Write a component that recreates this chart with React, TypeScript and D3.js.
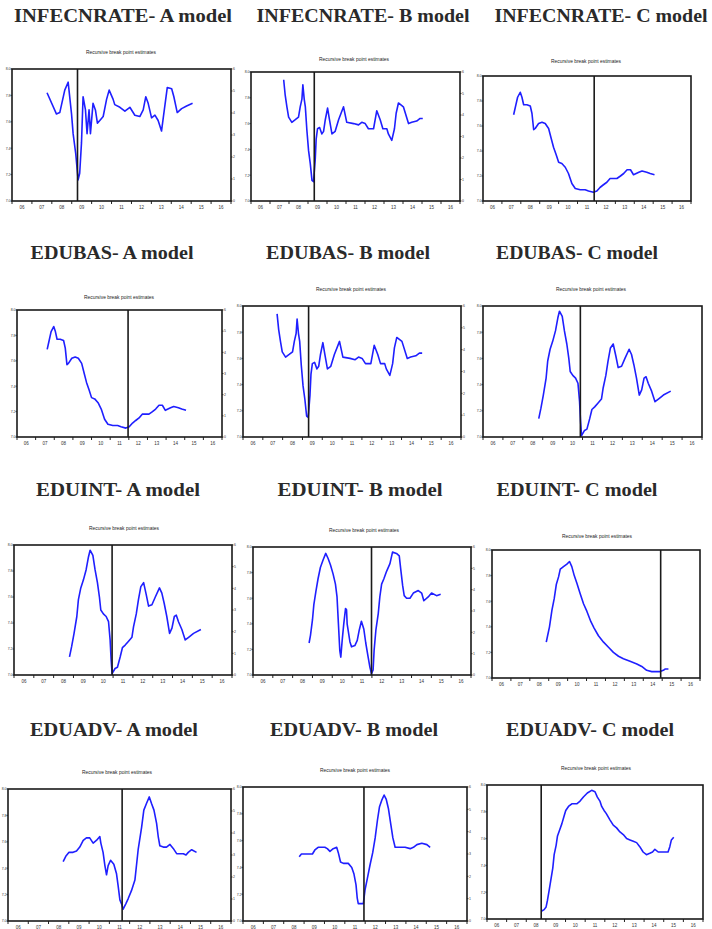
import React from "react";
import * as d3 from "d3";

// x axis: years since start (0..11), y: index 0..100 of the plotted series
const yearLabels = ["06", "07", "08", "09", "10", "11", "12", "13", "14", "15", "16"];
const titles = [
  "INFECNRATE- A model", "INFECNRATE- B model", "INFECNRATE- C model",
  "EDUBAS- A model", "EDUBAS- B model", "EDUBAS- C model",
  "EDUINT- A model", "EDUINT- B model", "EDUINT- C model",
  "EDUADV- A model", "EDUADV- B model", "EDUADV- C model",
];
const subtitle = "Recursive break point estimates";

// break dates (vertical line) per panel
const breaks = [3.29, 3.33, 5.88, 5.96, 3.31, 4.89, 4.95, 5.98, 8.92, 5.63, 5.94, 2.76];

const infecA = [
  [1.76, 82], [2.23, 66], [2.4, 67], [2.65, 84], [2.82, 90], [2.99, 66], [3.07, 51], [3.2, 36],
  [3.32, 16], [3.4, 21], [3.49, 44], [3.57, 79], [3.69, 69], [3.77, 51], [3.87, 69], [3.94, 51],
  [4.07, 74], [4.19, 69], [4.29, 59], [4.41, 61], [4.58, 64], [4.75, 77], [4.88, 84], [5.08, 77],
  [5.16, 73], [5.42, 71], [5.67, 68], [5.92, 71], [6.17, 65], [6.42, 64], [6.59, 69], [6.72, 79],
  [6.84, 74], [7.01, 63], [7.18, 65], [7.34, 61], [7.51, 53], [7.65, 69], [7.8, 86], [8.02, 85],
  [8.13, 79], [8.3, 67], [8.52, 70], [8.77, 72], [9.07, 74],
];

const infecB = [
  [1.72, 94], [1.8, 82], [1.89, 73], [1.98, 65], [2.15, 61], [2.33, 63], [2.5, 65], [2.59, 73],
  [2.68, 79], [2.73, 90], [2.8, 79], [2.86, 73], [2.94, 55], [3.03, 39], [3.12, 29], [3.21, 16],
  [3.29, 15], [3.38, 32], [3.43, 48], [3.5, 56], [3.61, 57], [3.73, 52], [3.82, 54], [3.91, 63],
  [4.03, 72], [4.13, 63], [4.26, 52], [4.43, 54], [4.61, 63], [4.87, 73], [5.04, 61], [5.4, 60],
  [5.66, 59], [5.83, 61], [6.01, 60], [6.18, 56], [6.45, 56], [6.62, 70], [6.8, 63], [6.94, 56],
  [7.15, 56], [7.23, 52], [7.41, 47], [7.55, 56], [7.64, 68], [7.76, 76], [8.02, 73], [8.29, 60],
  [8.46, 61], [8.72, 62], [8.9, 64], [9.04, 64],
];

const infecC = [
  [1.62, 69], [1.71, 75], [1.83, 83], [1.97, 87], [2.06, 83], [2.15, 77], [2.32, 77], [2.5, 76],
  [2.59, 70], [2.68, 57], [2.76, 58], [2.94, 62], [3.12, 63], [3.29, 62], [3.47, 58], [3.59, 51],
  [3.73, 43], [3.87, 37], [4.0, 31], [4.17, 30], [4.35, 27], [4.52, 22], [4.7, 14], [4.88, 10],
  [5.14, 9], [5.4, 9], [5.58, 8], [5.84, 7], [6.02, 8], [6.2, 11], [6.37, 13], [6.55, 15],
  [6.72, 18], [7.08, 18], [7.27, 20], [7.44, 22], [7.62, 25], [7.8, 25], [7.96, 21], [8.24, 23],
  [8.41, 24], [8.66, 23], [8.84, 22], [9.07, 21],
];

const eduIntA = [
  [2.8, 14], [2.91, 22], [3.03, 32], [3.17, 45], [3.25, 58], [3.37, 67], [3.5, 73], [3.64, 81],
  [3.76, 91], [3.84, 96], [3.98, 92], [4.09, 81], [4.21, 71], [4.31, 60], [4.38, 50], [4.51, 47],
  [4.65, 45], [4.77, 41], [4.85, 27], [4.9, 12], [4.95, 1], [5.1, 5], [5.22, 6], [5.36, 14],
  [5.47, 21], [5.61, 23], [5.78, 26], [5.95, 29], [6.03, 37], [6.17, 47], [6.28, 58], [6.4, 68],
  [6.54, 71], [6.67, 62], [6.79, 53], [6.96, 54], [7.13, 60], [7.34, 67], [7.46, 63], [7.58, 55],
  [7.71, 45], [7.85, 32], [7.97, 36], [8.09, 45], [8.19, 46], [8.3, 41], [8.47, 35], [8.64, 27],
  [8.81, 29], [9.06, 32], [9.43, 35],
];

const eduIntB = [
  [2.83, 25], [2.9, 31], [3.0, 43], [3.07, 55], [3.17, 65], [3.28, 75], [3.4, 84], [3.54, 90],
  [3.67, 95], [3.79, 91], [3.91, 86], [4.04, 79], [4.16, 71], [4.24, 61], [4.31, 40], [4.38, 19],
  [4.43, 14], [4.5, 27], [4.58, 40], [4.67, 52], [4.72, 51], [4.75, 40], [4.8, 35], [4.89, 26],
  [4.97, 22], [5.14, 23], [5.26, 27], [5.36, 35], [5.47, 42], [5.59, 36], [5.69, 25], [5.81, 14],
  [5.9, 6], [5.98, 1], [6.06, 4], [6.11, 19], [6.2, 35], [6.32, 48], [6.4, 61], [6.49, 71],
  [6.6, 75], [6.74, 81], [6.91, 87], [7.04, 96], [7.24, 95], [7.38, 93], [7.46, 82], [7.55, 70],
  [7.63, 62], [7.75, 60], [7.92, 60], [8.09, 64], [8.34, 66], [8.51, 64], [8.62, 58], [8.84, 61],
  [9.01, 64], [9.26, 62], [9.47, 63],
];

const eduIntC = [
  [2.87, 28], [2.94, 33], [3.04, 40], [3.17, 53], [3.29, 62], [3.4, 73], [3.52, 79], [3.61, 85],
  [3.78, 87], [3.96, 89], [4.1, 91], [4.22, 87], [4.35, 80], [4.49, 74], [4.66, 66], [4.84, 58],
  [5.02, 52], [5.23, 44], [5.4, 39], [5.63, 33], [5.9, 28], [6.16, 24], [6.42, 20], [6.69, 17],
  [6.95, 15], [7.3, 13], [7.66, 11], [7.92, 9], [8.18, 6], [8.45, 5], [8.71, 5], [8.89, 5],
  [9.06, 6], [9.15, 7], [9.33, 7],
];

const eduAdvA = [
  [2.72, 45], [2.85, 49], [3.01, 52], [3.21, 52], [3.38, 53], [3.54, 56], [3.71, 61], [3.87, 63],
  [4.03, 63], [4.2, 59], [4.36, 61], [4.53, 64], [4.58, 59], [4.69, 52], [4.78, 42], [4.86, 35],
  [4.94, 42], [5.06, 46], [5.22, 43], [5.35, 36], [5.43, 27], [5.52, 16], [5.6, 13], [5.68, 9],
  [5.81, 13], [5.93, 17], [6.09, 23], [6.26, 31], [6.42, 54], [6.59, 71], [6.7, 84], [6.83, 89],
  [6.97, 94], [7.08, 89], [7.2, 84], [7.33, 74], [7.41, 64], [7.49, 57], [7.66, 56], [7.82, 56],
  [7.99, 58], [8.15, 55], [8.32, 51], [8.48, 51], [8.65, 51], [8.78, 50], [8.89, 52], [9.06, 54],
  [9.3, 52],
];

const eduAdvB = [
  [2.76, 48], [2.87, 50], [3.12, 50], [3.41, 50], [3.53, 53], [3.69, 55], [4.02, 55], [4.14, 54],
  [4.27, 52], [4.43, 54], [4.6, 55], [4.68, 51], [4.79, 44], [4.93, 43], [5.17, 43], [5.34, 40],
  [5.45, 35], [5.55, 27], [5.61, 17], [5.66, 13], [5.91, 13], [5.99, 23], [6.11, 32], [6.24, 42],
  [6.37, 51], [6.49, 62], [6.6, 75], [6.7, 85], [6.81, 90], [6.93, 94], [7.03, 91], [7.14, 84],
  [7.26, 72], [7.36, 62], [7.47, 55], [7.72, 55], [7.96, 55], [8.21, 54], [8.37, 55], [8.54, 57],
  [8.78, 58], [9.03, 57], [9.19, 55],
];

const eduAdvC = [
  [2.79, 6], [2.91, 7], [3.01, 9], [3.08, 14], [3.16, 21], [3.25, 29], [3.35, 38], [3.42, 48],
  [3.52, 55], [3.59, 62], [3.69, 66], [3.81, 71], [3.93, 77], [4.01, 81], [4.15, 84], [4.32, 86],
  [4.57, 86], [4.74, 88], [4.91, 91], [5.11, 94], [5.33, 96], [5.5, 95], [5.62, 91], [5.75, 88],
  [5.84, 84], [5.96, 81], [6.06, 79], [6.18, 76], [6.26, 74], [6.43, 70], [6.6, 68], [6.77, 65],
  [6.94, 63], [7.11, 60], [7.28, 59], [7.45, 58], [7.62, 57], [7.78, 54], [7.95, 50], [8.12, 48],
  [8.29, 49], [8.43, 50], [8.55, 52], [8.72, 50], [8.97, 50], [9.22, 50], [9.31, 54], [9.39, 59],
  [9.51, 61],
];

const seriesList = [
  infecA, infecB, infecC,
  infecC, infecB, eduIntA,
  eduIntA, eduIntB, eduIntC,
  eduAdvA, eduAdvB, eduAdvC,
];

// panel layout in page pixels
const layout = [
  { x: 12, y: 69, w: 219, h: 132, tx: 123, ty: 22, tw: 218, sx: 121, sy: 54, right: true },
  { x: 251, y: 72, w: 209, h: 129, tx: 363, ty: 22, tw: 213, sx: 354, sy: 61, right: true },
  { x: 483, y: 76, w: 208, h: 125, tx: 601, ty: 22, tw: 213, sx: 586, sy: 63, right: false },
  { x: 17, y: 310, w: 205, h: 127, tx: 112, ty: 259, tw: 163, sx: 119, sy: 299, right: true },
  { x: 243, y: 306, w: 218, h: 131, tx: 348, ty: 259, tw: 164, sx: 351, sy: 291, right: true },
  { x: 483, y: 306, w: 219, h: 131, tx: 577, ty: 259, tw: 162, sx: 591, sy: 291, right: false },
  { x: 14, y: 545, w: 218, h: 130, tx: 118, ty: 496, tw: 164, sx: 124, sy: 530, right: true },
  { x: 253, y: 547, w: 218, h: 128, tx: 360, ty: 496, tw: 165, sx: 364, sy: 532, right: true },
  { x: 492, y: 550, w: 208, h: 128, tx: 577, ty: 496, tw: 161, sx: 597, sy: 538, right: false },
  { x: 8, y: 789, w: 223, h: 132, tx: 114, ty: 736, tw: 168, sx: 117, sy: 774, right: true },
  { x: 243, y: 787, w: 224, h: 134, tx: 354, ty: 736, tw: 168, sx: 355, sy: 772, right: true },
  { x: 487, y: 785, w: 216, h: 134, tx: 590, ty: 736, tw: 168, sx: 596, sy: 770, right: false },
];

function Panel({ i }: { i: number }) {
  const L = layout[i];
  const data = seriesList[i] as [number, number][];
  const x = d3.scaleLinear().domain([0, 11]).range([L.x, L.x + L.w]);
  const y = d3.scaleLinear().domain([0, 100]).range([L.y + L.h, L.y]);
  const y2 = d3.scaleLinear().domain([0, 6]).range([L.y + L.h, L.y]);
  const line = d3.line<[number, number]>().x(d => x(d[0])).y(d => y(d[1]));
  const fmt = d3.format(".1f");

  return (
    <g>
      <text x={L.tx} y={L.ty} textAnchor="middle" fontFamily="'Liberation Serif', serif"
        fontWeight="bold" fontSize={19} fill="#2a2a2a" textLength={L.tw} lengthAdjust="spacingAndGlyphs">
        {titles[i]}
      </text>
      <text x={L.sx} y={L.sy} textAnchor="middle" fontFamily="Arial, sans-serif" fontSize={4.5}
        fill="#222" textLength={70} lengthAdjust="spacingAndGlyphs">
        {subtitle}
      </text>
      {y.ticks(5).map(t => (
        <g key={"l" + t}>
          <line x1={L.x - 1.5} x2={L.x} y1={y(t)} y2={y(t)} stroke="#222" strokeWidth={0.8} />
          <text x={L.x - 1.5} y={y(t) + 1.3} textAnchor="end" fontSize={3.5} fontFamily="Arial, sans-serif" fill="#333">
            {fmt(7 + t / 100)}
          </text>
        </g>
      ))}
      {L.right && y2.ticks(6).map(t => (
        <g key={"r" + t}>
          <line x1={L.x + L.w} x2={L.x + L.w + 1.5} y1={y2(t)} y2={y2(t)} stroke="#222" strokeWidth={0.8} />
          <text x={L.x + L.w + 2} y={y2(t) + 1.3} textAnchor="start" fontSize={3.5} fontFamily="Arial, sans-serif" fill="#333">
            {t}
          </text>
        </g>
      ))}
      {d3.range(0, 12).map(t => (
        <line key={"xt" + t} x1={x(t)} x2={x(t)} y1={L.y + L.h} y2={L.y + L.h + 3} stroke="#222" strokeWidth={1} />
      ))}
      {yearLabels.map((lab, k) => (
        <text key={"xl" + k} x={x(k + 0.5)} y={L.y + L.h + 8} textAnchor="middle" fontSize={4.5}
          fontFamily="Arial, sans-serif" fill="#333">
          {lab}
        </text>
      ))}
      <path d={line(data) || ""} fill="none" stroke="#1f1fff" strokeWidth={1.6} strokeLinejoin="round" />
      <line x1={x(breaks[i])} x2={x(breaks[i])} y1={L.y} y2={L.y + L.h} stroke="#1a1a1a" strokeWidth={1.6} />
      <rect x={L.x} y={L.y} width={L.w} height={L.h} fill="none" stroke="#1a1a1a" strokeWidth={1.6} />
    </g>
  );
}

export default function App() {
  return (
    <svg width={712} height={929} style={{ position: "absolute", left: 0, top: 0, background: "#fff" }}>
      <rect width={712} height={929} fill="#fff" />
      {titles.map((_, i) => <Panel key={i} i={i} />)}
    </svg>
  );
}
